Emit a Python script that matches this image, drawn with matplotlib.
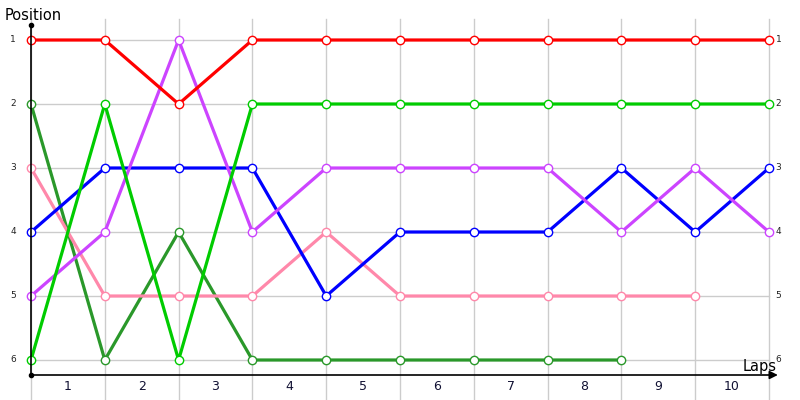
import numpy as np
import matplotlib
matplotlib.use("Agg")
import matplotlib.pyplot as plt

# lap boundaries 0..10, position at each boundary
laps = [1, 2, 3, 4, 5, 6, 7, 8, 9, 10]
positions = [1, 2, 3, 4, 5, 6]

red = [1, 1, 2, 1, 1, 1, 1, 1, 1, 1, 1]
green = [6, 2, 6, 2, 2, 2, 2, 2, 2, 2, 2]
dark_green = [2, 6, 4, 6, 6, 6, 6, 6, 6]
blue = [4, 3, 3, 3, 5, 4, 4, 4, 3, 4, 3]
purple = [5, 4, 1, 4, 3, 3, 3, 3, 4, 3, 4]
pink = [3, 5, 5, 5, 4, 5, 5, 5, 5, 5]

series = [
    (dark_green, '#2a982a'),
    (pink, '#ff88aa'),
    (blue, '#0000ff'),
    (purple, '#cc44ff'),
    (green, '#00cc00'),
    (red, '#ff0000'),
]

fig = plt.figure(figsize=(8, 4), dpi=100)
ax = fig.add_axes([0, 0, 1, 1])
# pixel mapping: x=0 at 31px, 73.8px per lap; pos 1 at 40px, 64px per place
ax.set_xlim(-31 / 73.8, (800 - 31) / 73.8)
ax.set_ylim(6 + 40 / 64, 1 - 40 / 64)
ax.axis('off')

n = len(laps)
ytop, ybot = 1 - 15 / 64, 6 + 15 / 64
grid_c = '#cccccc'
for i in range(n + 1):
    ax.plot([i, i], [1 - 21 / 64, 6 + 40 / 64], color=grid_c, lw=1, zorder=1)
for p in positions:
    ax.plot([0, n], [p, p], color=grid_c, lw=1, zorder=1)
    ax.text(-0.24, p, str(p), ha='center', va='center', fontsize=6.5, color='#222222')
    ax.text(n + 0.09, p, str(p), ha='left', va='center', fontsize=6.5, color='#222222')

for lap in laps:
    ax.text(lap - 0.5, 6 + 27 / 64, str(lap), ha='center', va='center', fontsize=9, color='#111133')

# axes
ax.plot([0, 0], [ytop, ybot], color='black', lw=1.2, zorder=5)
ax.plot([0], [ytop], 'o', color='black', ms=3, zorder=5)
ax.plot([0], [ybot], 'o', color='black', ms=3, zorder=5)
ax.annotate('', xy=(n + 0.12, ybot), xytext=(0, ybot),
            arrowprops=dict(arrowstyle='-|>', color='black', lw=1.2,
                            mutation_scale=12, shrinkA=0, shrinkB=0), zorder=5)

ax.text(-0.36, 1 - 25 / 64, 'Position', ha='left', va='center', fontsize=10.5)
ax.text(n - 0.36, 6 + 6 / 64, 'Laps', ha='left', va='center', fontsize=10.5)

for vals, c in series:
    x = np.arange(len(vals))
    ax.plot(x, vals, color=c, lw=2.3, marker='o', ms=6, mfc='white', mec=c, mew=1, zorder=3)

fig.savefig('out.png', dpi=100)
